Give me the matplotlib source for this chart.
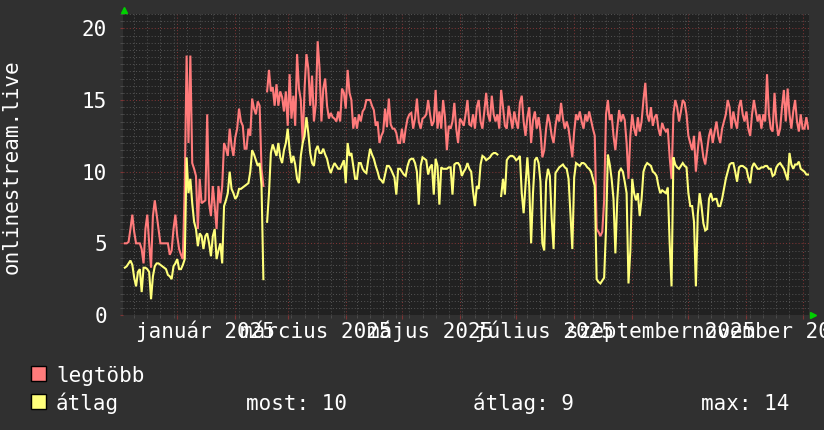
import numpy as np
import pandas as pd
import matplotlib
matplotlib.use("Agg")
import matplotlib.pyplot as plt
import matplotlib.dates as mdates
from matplotlib.ticker import MultipleLocator, NullFormatter
from matplotlib.patches import Rectangle
from matplotlib import transforms

nan = float("nan")

# ---------------- data ----------------
start_date = "2024-12-04"          # first daily sample
view_start = "2024-12-03 07:00"
view_end = "2025-12-04 10:00"

legtobb = [
    5.0, 5.0, 5.1, 6.0, 7.0, 5.8, 5.0, 5.0, 5.0, 4.6,
    3.6, 6.0, 7.0, 5.0, 3.3, 6.9, 8.0, 7.0, 6.0, 5.0,
    5.0, 5.0, 5.0, 5.0, 4.2, 4.5, 6.0, 7.0, 5.5, 4.6,
    4.2, 3.9, 9.0, 18.1, 12.0, 18.1, 10.6, 10.2, 9.7, 6.0,
    9.5, 7.8, 7.9, 8.0, 14.0, 7.8, 6.9, 9.0, 7.6, 6.0,
    9.0, 7.8, 9.0, 12.0, 11.6, 11.1, 13.0, 11.8, 11.1, 12.4,
    13.0, 14.4, 13.5, 13.2, 11.6, 11.6, 13.0, 12.5, 15.1, 14.4,
    14.0, 14.9, 14.6, 10.2, 9.0, nan, 15.6, 17.1, 15.6, 15.9,
    14.6, 16.1, 14.6, 15.6, 15.2, 14.2, 15.6, 13.2, 16.8, 13.7,
    15.3, 13.2, 18.2, 15.8, 15.0, 12.0, 15.8, 18.2, 17.2, 14.6,
    16.7, 13.5, 14.7, 19.1, 17.2, 13.5, 15.8, 16.5, 14.6, 13.7,
    14.1, 13.8, 13.7, 13.5, 14.2, 13.5, 15.8, 15.5, 14.4, 17.1,
    15.5, 15.0, 13.0, 13.8, 13.0, 14.0, 13.5, 14.2, 14.4, 15.0,
    15.0, 15.0, 14.6, 14.3, 13.2, 13.5, 12.0, 12.5, 12.8, 14.4,
    13.1, 15.1, 13.3, 13.0, 13.0, 12.7, 12.0, 12.0, 13.0, 12.0,
    13.0, 13.7, 14.0, 14.1, 13.0, 13.7, 15.1, 13.5, 13.0, 13.7,
    13.8, 14.0, 15.0, 14.0, 13.2, 13.5, 15.7, 13.0, 14.2, 13.0,
    15.0, 13.8, 11.5, 13.2, 13.0, 13.5, 14.8, 13.0, 12.0, 13.7,
    13.5, 13.2, 14.0, 15.0, 13.3,
    13.2, 14.0, 13.0, 14.5, 15.0, 13.5, 13.0, 14.2, 15.5, 14.0, 13.5, 15.3, 14.0, 13.5, 14.0,
    13.0, 15.7, 14.5, 13.2, 13.0, 14.6, 13.8, 13.0, 14.2, 13.5, 13.0, 14.8, 15.3, 13.5, 12.5,
    13.8, 14.5, 12.0, 13.6, 14.2, 13.0, 13.8, 12.8, 11.0, 11.5, 13.0, 14.0, 13.4, 12.5, 12.0,
    13.2, 14.0, 13.5, 14.8, 13.7, 13.0, 13.5, 13.0, 12.0, 11.0, 12.8, 14.0, 13.6, 14.2, 13.5,
    13.0, 14.0, 13.5, 14.2, 13.6, 13.0, 12.5, 6.0, 5.8, 5.5, 5.8, 8.0, 14.0, 15.0, 13.6,
    14.0, 12.5, 11.5, 13.0, 14.3, 13.5, 14.0, 13.6, 12.0, 9.5, 12.5, 14.0, 13.0, 12.5, 13.8,
    12.8, 13.5, 15.0, 16.2, 14.0, 13.5, 14.5, 13.2, 13.8, 14.0, 13.0, 12.5, 13.4, 13.0, 12.8,
    13.0, 11.0, 9.5, 14.0, 15.0, 14.5, 13.5, 14.2, 15.0, 14.8, 14.0, 12.5, 12.0, 11.5, 12.5,
    10.0, 11.5, 12.8, 12.0, 11.0, 10.5, 11.5, 12.5, 13.0, 12.0, 12.8, 13.5, 12.5, 12.0, 13.0,
    13.5, 14.0, 15.0, 14.5, 13.0, 14.2, 13.5, 13.0, 14.5, 15.0, 14.0, 13.5, 14.2, 13.0, 12.5,
    14.0, 15.0, 14.2, 13.5, 14.0, 13.0, 14.0, 13.5, 16.8, 14.0, 13.0, 12.8, 15.5, 13.5, 12.5,
    13.0, 14.5, 15.7, 13.5, 15.8, 14.0, 13.0, 14.2, 15.0, 13.5, 12.8, 14.0, 13.0, 13.0, 13.8,
    13.0,
]

atlag = [
    3.3, 3.4, 3.6, 3.8, 3.5, 2.6, 2.0, 3.0, 3.2, 1.6,
    3.3, 3.3, 3.2, 3.0, 1.1, 2.7, 3.4, 3.6, 3.6, 3.5,
    3.4, 3.3, 3.2, 2.8, 2.7, 2.5, 3.4, 3.6, 3.9, 3.2,
    3.2, 3.5, 3.9, 11.0, 8.5, 9.5, 7.8, 6.5, 6.0, 4.8,
    5.7, 5.5, 4.6, 5.5, 5.7, 5.0, 4.1, 5.5, 6.0, 3.9,
    4.5, 5.0, 3.6, 7.6, 8.0, 8.5, 10.0, 8.8, 8.5, 8.1,
    8.3, 8.8, 8.8, 8.9, 9.0, 9.1, 9.2, 10.0, 11.5, 11.2,
    10.8, 10.4, 10.6, 9.1, 2.5, nan, 6.5, 8.5, 11.3, 11.9,
    11.5, 11.1, 12.0, 11.0, 10.6, 11.5, 12.0, 13.0, 11.5, 10.6,
    11.1, 10.5, 9.5, 9.2, 11.1, 12.0, 12.5, 13.8, 12.7, 11.3,
    10.6, 10.4, 11.5, 11.8, 11.3, 11.3, 11.6, 11.2, 10.9, 10.3,
    9.9, 10.3, 10.6, 10.4, 10.2, 10.2, 10.5, 10.8, 9.2, 12.0,
    11.1, 11.3, 10.4, 9.5, 9.5, 10.6, 10.6, 10.2, 10.0, 9.9,
    10.8, 11.6, 11.2, 10.9, 10.4, 10.0, 9.5, 9.4, 9.2, 9.8,
    10.4, 10.4, 10.2, 9.9, 9.6, 8.4, 10.2, 10.2, 10.0, 9.8,
    9.7, 10.4, 10.8, 10.9, 10.9, 10.6, 10.0, 7.7, 10.4, 11.0,
    10.9, 10.8, 9.8, 10.3, 10.5, 8.4, 10.9, 10.4, 7.7, 10.3,
    10.2, 10.2, 10.2, 10.3, 10.3, 8.4, 10.5, 10.6, 10.6, 10.4,
    9.7, 10.0, 10.2, 10.6, 10.2,
    10.0, 8.6, 7.6, 9.0, 8.8, 10.5, 11.1, 11.0, 10.8, 10.9,
    11.0, 11.2, 11.3, 11.3, 11.2, nan, 8.3, 9.5, 8.4, 10.8,
    11.0, 11.1, 11.1, 11.0, 10.8, 10.9, 11.1, 8.5, 7.1, 9.0,
    11.0, 9.0, 5.0, 8.5, 10.8, 11.0, 10.6, 9.3, 5.0, 4.5,
    9.3, 10.2, 9.7, 6.7, 4.6, 9.9, 10.1, 10.3, 10.4, 10.5,
    10.3, 10.2, 9.5, 7.0, 4.6, 9.6, 10.6, 10.5, 10.4, 10.6,
    10.6, 10.5, 10.3, 10.2, 10.0, 9.5, 9.0, 2.5, 2.3, 2.2,
    2.4, 2.6, 6.0, 11.2, 10.5, 9.5, 8.1, 4.3, 8.0, 10.0,
    10.2, 10.0, 9.3, 8.5, 2.2, 4.5, 9.5, 8.5, 8.0, 8.5,
    6.9, 8.1, 10.0, 10.4, 10.6, 10.5, 10.4, 10.0, 9.9, 9.7,
    9.0, 8.5, 8.7, 8.6, 8.5, 8.9, 5.0, 2.0, 11.0, 10.5,
    10.3, 10.2, 10.4, 10.6, 10.4, 10.3, 8.5, 7.6, 7.6, 6.5,
    2.0, 7.0, 8.5, 7.6, 6.4, 5.9, 6.0, 8.1, 8.5, 8.0,
    8.1, 8.1, 7.6, 7.6, 8.1, 8.8, 9.5, 10.0, 10.5, 10.6,
    10.6, 10.0, 9.3, 10.3, 10.4, 10.4, 10.3, 10.2, 9.6, 9.2,
    10.3, 10.6, 10.4, 10.2, 10.2, 10.3, 10.3, 10.4, 10.4, 10.2,
    10.2, 9.7, 9.8, 10.3, 10.5, 10.6, 10.4, 10.2, 9.8, 9.4,
    11.3, 10.5, 10.2, 10.5, 10.5, 10.7, 10.2, 10.1, 10.0, 9.8,
    9.8,
]

month_labels = ["január 2025", "március 2025", "május 2025",
                "július 2025", "szeptember 2025", "november 2025"]
month_label_dates = ["2025-01-16", "2025-03-16", "2025-05-16",
                     "2025-07-16", "2025-09-16", "2025-11-16"]
y_ticks = [0, 5, 10, 15, 20]
y_label = "onlinestream.live"
series_names = ["legtöbb", "átlag"]
stat_names = ["most", "átlag", "max"]

# ---------------- style ----------------
BG = "#303030"
CANVAS = "#212121"
RED = "#ff7b7b"
YELLOW = "#ffff7b"
MAJOR_GRID = "#7c3434"
MINOR_GRID = "#505050"
FONT = "DejaVu Sans Mono"
FS = 15

W, H = 824, 430
fig = plt.figure(figsize=(W / 100, H / 100), dpi=100, facecolor=BG)
L, R, T, B = 123.5, 809, 14, 315
ax = fig.add_axes([L / W, 1 - B / H, (R - L) / W, (B - T) / H])
ax.set_facecolor(CANVAS)

dates = pd.date_range(start_date, periods=len(legtobb), freq="D")
ax.plot(dates, np.array(legtobb, float), color=RED, lw=1.5, zorder=3,
        solid_joinstyle="miter")
ax.plot(dates, np.array(atlag, float), color=YELLOW, lw=1.5, zorder=4,
        solid_joinstyle="miter")

ax.set_xlim(pd.Timestamp(view_start), pd.Timestamp(view_end))
ax.set_ylim(0, 21)

ax.xaxis.set_major_locator(mdates.MonthLocator())
ax.xaxis.set_minor_locator(mdates.WeekdayLocator(byweekday=mdates.MO))
ax.xaxis.set_major_formatter(NullFormatter())
ax.xaxis.set_minor_formatter(NullFormatter())
ax.yaxis.set_major_locator(MultipleLocator(5))
ax.yaxis.set_minor_locator(MultipleLocator(0.5))
ax.set_yticks(y_ticks)
ax.set_yticklabels([str(v) for v in y_ticks], fontfamily=FONT, fontsize=FS,
                   color="white")

ax.set_axisbelow(True)
ax.grid(which="minor", color=MINOR_GRID, linestyle=(0, (1, 2)), lw=0.75)
ax.grid(which="major", color=MAJOR_GRID, linestyle=(0, (1, 2)), lw=0.75)

ax.tick_params(axis="y", which="major", length=2, color=MAJOR_GRID, pad=10)
ax.tick_params(axis="y", which="minor", length=2, color=MINOR_GRID)
ax.tick_params(axis="x", which="major", length=3, color=MAJOR_GRID)
ax.tick_params(axis="x", which="minor", length=2, color=MINOR_GRID)
for s in ax.spines.values():
    s.set_visible(False)

# month labels (centered mid-month, every second month)
xform = transforms.blended_transform_factory(ax.transData, ax.transAxes)
off = transforms.ScaledTranslation(0, -23 / 100, fig.dpi_scale_trans)
for lab, dt in zip(month_labels, month_label_dates):
    ax.text(mdates.date2num(pd.Timestamp(dt)), 0, lab, transform=xform + off,
            ha="center", va="baseline", fontfamily=FONT, fontsize=FS,
            color="white", clip_on=False)

# axis arrows
up = transforms.ScaledTranslation(0.5 / 100, 4 / 100, fig.dpi_scale_trans)
ax.plot([0], [1], marker="^", ms=5, color="#00d000", transform=ax.transAxes + up,
        clip_on=False, zorder=6)
rt = transforms.ScaledTranslation(4 / 100, 0, fig.dpi_scale_trans)
ax.plot([1], [0], marker=">", ms=5, color="#00d000", transform=ax.transAxes + rt,
        clip_on=False, zorder=6)

# y label
fig.text(11.5 / W, 1 - 167 / H, y_label, rotation=90, ha="center", va="center",
         fontfamily=FONT, fontsize=FS, color="white")

# legend
def px(x, y):
    return x / W, 1 - y / H

for i, (name, col) in enumerate(zip(series_names, [RED, YELLOW])):
    top = 366 + i * 28
    fig.add_artist(Rectangle(px(31, top + 15), 15 / W, 15 / H, transform=fig.transFigure,
                             facecolor=col, edgecolor="black", lw=1))
    fig.text(*px(56, 381.5 + i * 28), name, ha="left", va="baseline",
             fontfamily=FONT, fontsize=FS, color="white")

vals = np.array(atlag, float)
stats = [vals[~np.isnan(vals)][-1], np.nanmean(vals), np.nanmax(vals)]
for name, v, x in zip(stat_names, stats, [246, 473, 701]):
    fig.text(*px(x, 409.5), f"{name}: {v:.0f}", ha="left", va="baseline",
             fontfamily=FONT, fontsize=FS, color="white")

fig.savefig("out.png", dpi=100, facecolor=BG)
